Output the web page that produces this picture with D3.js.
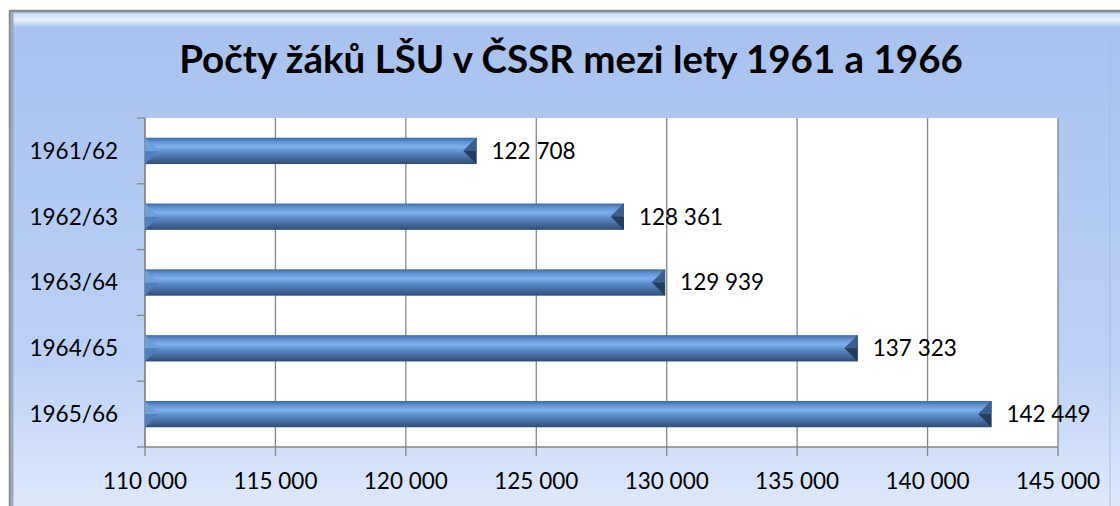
<!DOCTYPE html>
<html>
<head>
<meta charset="utf-8">
<script src="https://cdn.jsdelivr.net/npm/d3@7"></script>
<style>
  body { margin: 0; background: #fff; }
  text { font-family: Lato, "Open Sans", sans-serif; fill: #000; }
</style>
</head>
<body>
<div id="chart"></div>
<script>
// chart data
var years = ["1961/62", "1962/63", "1963/64", "1964/65", "1965/66"];
var pupils = [122708, 128361, 129939, 137323, 142449];
var valueLabels = ["122 708", "128 361", "129 939", "137 323", "142 449"];
var xTicks = [110000, 115000, 120000, 125000, 130000, 135000, 140000, 145000];
var chartTitle = "Počty žáků LŠU v ČSSR mezi lety 1961 a 1966";

var svgWidth = 1120;
var svgHeight = 506;

var plot = { left: 145, right: 1058, top: 118, bottom: 447 };

var svg = d3.select("#chart")
  .append("svg")
  .attr("width", svgWidth)
  .attr("height", svgHeight);

var defs = svg.append("defs");

// frame background gradient
var bg = defs.append("linearGradient")
  .attr("id", "bgGrad")
  .attr("x1", 0).attr("y1", 0).attr("x2", 0).attr("y2", 1);
bg.append("stop").attr("offset", "0%").attr("stop-color", "#a7c1ee");
bg.append("stop").attr("offset", "70%").attr("stop-color", "#bcd1f5");
bg.append("stop").attr("offset", "100%").attr("stop-color", "#dfe9fb");

var hi = defs.append("linearGradient")
  .attr("id", "hiGrad")
  .attr("x1", 0).attr("y1", 0).attr("x2", 0).attr("y2", 1);
hi.append("stop").attr("offset", "0%").attr("stop-color", "#c4daf7");
hi.append("stop").attr("offset", "50%").attr("stop-color", "#e6f2fd");
hi.append("stop").attr("offset", "100%").attr("stop-color", "#abc6f0");

// bar gradient (cylinder look)
var barGrad = defs.append("linearGradient")
  .attr("id", "barGrad")
  .attr("x1", 0).attr("y1", 0).attr("x2", 0).attr("y2", 1);
barGrad.append("stop").attr("offset", "0%").attr("stop-color", "#3d6aa3");
barGrad.append("stop").attr("offset", "15%").attr("stop-color", "#5f92d3");
barGrad.append("stop").attr("offset", "35%").attr("stop-color", "#7fb0ec");
barGrad.append("stop").attr("offset", "55%").attr("stop-color", "#5a8bc8");
barGrad.append("stop").attr("offset", "80%").attr("stop-color", "#43699b");
barGrad.append("stop").attr("offset", "100%").attr("stop-color", "#2f4c74");

// outer frame
svg.append("rect")
  .attr("x", 10).attr("y", 11)
  .attr("width", 1120).attr("height", 500)
  .attr("fill", "url(#bgGrad)")
  .attr("stroke", "#8a8a8a")
  .attr("stroke-width", 2.5);

// bevel highlight along top
svg.append("rect")
  .attr("x", 12).attr("y", 13)
  .attr("width", 1110).attr("height", 14)
  .attr("fill", "url(#hiGrad)");

svg.append("line")
  .attr("x1", 12).attr("x2", 12).attr("y1", 12).attr("y2", 506)
  .attr("stroke", "#9aa8c0").attr("stroke-width", 3);

svg.append("line")
  .attr("x1", 1110).attr("x2", 1110).attr("y1", 27).attr("y2", 506)
  .attr("stroke", "#a3bde6").attr("stroke-width", 1);

// title
svg.append("text")
  .attr("x", 571)
  .attr("y", 73)
  .attr("text-anchor", "middle")
  .style("font-size", "38.5px")
  .style("font-weight", "bold")
  .text(chartTitle);

// scales
var xScale = d3.scaleLinear()
  .domain([110000, 145000])
  .range([plot.left, plot.right]);

var yScale = d3.scaleBand()
  .domain(years)
  .range([plot.top, plot.bottom])
  .paddingInner(0.6)
  .paddingOuter(0.3);

// plot area
svg.append("rect")
  .attr("x", plot.left).attr("y", plot.top)
  .attr("width", plot.right - plot.left)
  .attr("height", plot.bottom - plot.top)
  .attr("fill", "#fff");

// gridlines
svg.append("g")
  .selectAll("line")
  .data(xTicks)
  .enter()
  .append("line")
  .attr("x1", d => xScale(d))
  .attr("x2", d => xScale(d))
  .attr("y1", plot.top)
  .attr("y2", plot.bottom + 9)
  .attr("stroke", "#868686")
  .attr("stroke-width", 1.3);

// x axis line + labels
svg.append("line")
  .attr("x1", plot.left).attr("x2", plot.right)
  .attr("y1", plot.bottom).attr("y2", plot.bottom)
  .attr("stroke", "#868686").attr("stroke-width", 1.3);

var fmt = d => d3.format(",")(d).replace(/,/g, " ");

svg.append("g")
  .selectAll("text")
  .data(xTicks)
  .enter()
  .append("text")
  .attr("x", d => xScale(d))
  .attr("y", 489)
  .attr("text-anchor", "middle")
  .style("font-size", "22.5px")
  .text(fmt);

// y axis line + ticks
svg.append("line")
  .attr("x1", plot.left).attr("x2", plot.left)
  .attr("y1", plot.top).attr("y2", plot.bottom)
  .attr("stroke", "#868686").attr("stroke-width", 1.3);

var step = (plot.bottom - plot.top) / years.length;
svg.append("g")
  .selectAll("line")
  .data(d3.range(years.length + 1))
  .enter()
  .append("line")
  .attr("x1", plot.left - 8).attr("x2", plot.left)
  .attr("y1", i => plot.top + i * step)
  .attr("y2", i => plot.top + i * step)
  .attr("stroke", "#868686").attr("stroke-width", 1.3);

// category labels
svg.append("g")
  .selectAll("text")
  .data(years)
  .enter()
  .append("text")
  .attr("x", 118)
  .attr("y", d => yScale(d) + yScale.bandwidth() / 2)
  .attr("dy", "0.35em")
  .attr("text-anchor", "end")
  .style("font-size", "22.5px")
  .text(d => d);

// bars
var bh = yScale.bandwidth();
var bars = svg.append("g")
  .selectAll("g")
  .data(pupils)
  .enter()
  .append("g")
  .attr("transform", (d, i) => `translate(${plot.left}, ${yScale(years[i])})`);

bars.append("rect")
  .attr("x", 0).attr("y", 0)
  .attr("width", d => xScale(d) - plot.left)
  .attr("height", bh)
  .attr("fill", "url(#barGrad)");

// bevel at left
bars.append("path")
  .attr("d", `M0,0 L${bh / 2},${bh / 2} L0,${bh} Z`)
  .attr("fill", "#4f80bf");
bars.append("path")
  .attr("d", `M0,0 L${bh / 2},${bh / 2} L0,${bh / 2} Z`)
  .attr("fill", "#6f9ed8");

// bevel at right
bars.append("path")
  .attr("d", d => {
    var w = xScale(d) - plot.left;
    return `M${w},0 L${w - bh / 2},${bh / 2} L${w},${bh} Z`;
  })
  .attr("fill", "#223d60");
bars.append("path")
  .attr("d", d => {
    var w = xScale(d) - plot.left;
    return `M${w},0 L${w - bh / 2},${bh / 2} L${w},${bh / 2} Z`;
  })
  .attr("fill", "#3a5f8f");

// data labels
svg.append("g")
  .selectAll("text")
  .data(pupils)
  .enter()
  .append("text")
  .attr("x", d => xScale(d) + 15)
  .attr("y", (d, i) => yScale(years[i]) + bh / 2)
  .attr("dy", "0.35em")
  .style("font-size", "22.5px")
  .text((d, i) => valueLabels[i]);
</script>
</body>
</html>
